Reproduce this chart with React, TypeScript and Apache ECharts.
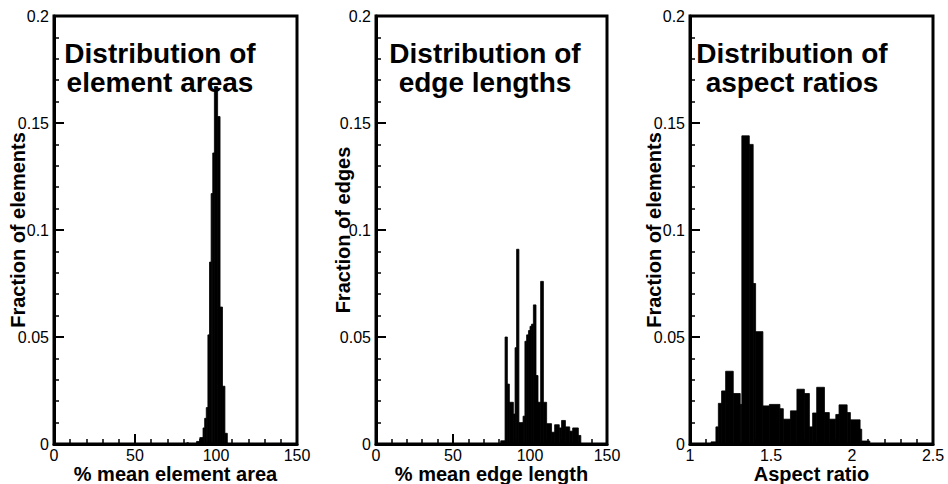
import React, { useEffect, useRef } from 'react';
import * as echarts from 'echarts';

// Panel 1: distribution of element areas (% of mean element area)
const AREA_EDGES = [82, 83, 88, 90, 92, 93, 94, 95, 96, 97, 98, 99, 101, 102.5, 104, 105.5, 107];
const AREA_FRACTIONS = [0.0006, 0, 0.0012, 0.003, 0.0075, 0.012, 0.017, 0.051, 0.085, 0.117, 0.136, 0.167, 0.153, 0.064, 0.027, 0.005];

// Panel 2: distribution of edge lengths (% of mean edge length)
const EDGE_EDGES = [81, 83.8, 85.3, 86.6, 89.2, 90.3, 91.3, 92.8, 95.5, 96.7, 97.8, 99, 100, 101, 102.2, 103.9, 105.2, 106.9, 108.7, 110.8, 114, 116, 119, 120.5, 123, 125.8, 127.7, 131.4, 133];
const EDGE_FRACTIONS = [0.0015, 0.05, 0.028, 0.0195, 0.014, 0.045, 0.091, 0.01, 0.013, 0.048, 0.051, 0.053, 0.055, 0.056, 0.065, 0.032, 0.0195, 0.076, 0.0195, 0.0095, 0.0055, 0.009, 0.0075, 0.011, 0.008, 0.006, 0.0075, 0.004];

// Panel 3: distribution of aspect ratios
const ASPECT_EDGES = [1.13, 1.16, 1.175, 1.195, 1.22, 1.267, 1.31, 1.32, 1.366, 1.39, 1.405, 1.45, 1.49, 1.555, 1.576, 1.62, 1.66, 1.706, 1.737, 1.757, 1.782, 1.83, 1.86, 1.9, 1.92, 1.97, 1.99, 2.05, 2.06, 2.11];
const ASPECT_FRACTIONS = [0.001, 0.008, 0.019, 0.0248, 0.034, 0.0236, 0.0185, 0.144, 0.14, 0.075, 0.0525, 0.0178, 0.0185, 0.0165, 0.0116, 0.0155, 0.0256, 0.0236, 0.008, 0.0145, 0.0265, 0.0147, 0.0116, 0.0138, 0.0183, 0.0147, 0.0113, 0.0069, 0.0014];

const TITLES = ['Distribution of\nelement areas', 'Distribution of\nedge lengths', 'Distribution of\naspect ratios'];
const X_NAMES = ['% mean element area', '% mean edge length', 'Aspect ratio'];
const Y_NAMES = ['Fraction of elements', 'Fraction of edges', 'Fraction of elements'];
const X_RANGES = [[0, 150, 50], [0, 150, 50], [1, 2.5, 0.5]];
const Y_RANGE = [0, 0.2, 0.05];

const FONT = '"Liberation Sans", Arial, Helvetica, sans-serif';

function toBins(edges: number[], values: number[]) {
  return values.map((v, i) => [edges[i], edges[i + 1], v]);
}

export default function App() {
  const ref = useRef<HTMLDivElement>(null);

  useEffect(() => {
    if (!ref.current) return;
    const chart = echarts.init(ref.current, null, { renderer: 'svg' });

    const layout = [
      { left: 54, width: 243, yGap: 27, titleX: 160 },
      { left: 376, width: 231, yGap: 24, titleX: 485 },
      { left: 690, width: 243, yGap: 27, titleX: 792 },
    ];
    const datasets = [
      toBins(AREA_EDGES, AREA_FRACTIONS),
      toBins(EDGE_EDGES, EDGE_FRACTIONS),
      toBins(ASPECT_EDGES, ASPECT_FRACTIONS),
    ];

    const tickStyle = {
      axisLine: { show: true, lineStyle: { color: '#000', width: 3 } },
      axisTick: { show: true, inside: true, length: 10, lineStyle: { color: '#000', width: 2 } },
      minorTick: { show: true, splitNumber: 5, length: 5, lineStyle: { color: '#000', width: 1.5 } },
      splitLine: { show: false },
      minorSplitLine: { show: false },
    };
    const labelStyle = { color: '#000', fontSize: 16, fontFamily: FONT, lineHeight: 14 };
    const nameStyle = { color: '#000', fontSize: 20, fontWeight: 'bold', fontFamily: FONT, lineHeight: 18 };

    const renderItem = (params: any, api: any) => {
      const x0 = api.value(0);
      const x1 = api.value(1);
      const v = api.value(2);
      const a = api.coord([x0, v]);
      const b = api.coord([x1, 0]);
      return {
        type: 'rect',
        shape: { x: a[0], y: a[1], width: b[0] - a[0], height: b[1] - a[1] },
        style: { fill: '#000', stroke: '#000', lineWidth: 0.8 },
      };
    };

    const option: any = {
      animation: false,
      backgroundColor: '#fff',
      grid: layout.map((l) => ({
        left: l.left,
        width: l.width,
        top: 16,
        height: 428,
        containLabel: false,
        outerBoundsMode: 'none',
        show: true,
        borderColor: '#000',
        borderWidth: 3,
        backgroundColor: 'transparent',
      })),
      xAxis: layout.map((l, i) => ({
        type: 'value',
        gridIndex: i,
        min: X_RANGES[i][0],
        max: X_RANGES[i][1],
        interval: X_RANGES[i][2],
        ...tickStyle,
        axisLabel: { ...labelStyle, margin: 4 },
        name: X_NAMES[i],
        nameLocation: 'middle',
        nameGap: 21,
        nameMoveOverlap: false,
        nameTextStyle: nameStyle,
      })),
      yAxis: layout.map((l, i) => ({
        type: 'value',
        gridIndex: i,
        min: Y_RANGE[0],
        max: Y_RANGE[1],
        interval: Y_RANGE[2],
        ...tickStyle,
        axisLabel: { ...labelStyle, margin: 5 },
        name: Y_NAMES[i],
        nameLocation: 'middle',
        nameRotate: 90,
        nameGap: l.yGap,
        nameMoveOverlap: false,
        nameTextStyle: nameStyle,
      })),
      series: datasets.map((d, i) => ({
        type: 'custom',
        xAxisIndex: i,
        yAxisIndex: i,
        data: d,
        encode: { x: [0, 1], y: 2 },
        renderItem,
        z: 5,
      })),
      graphic: layout.map((l, i) => ({
        type: 'text',
        x: l.titleX,
        y: 39,
        z: 1,
        style: {
          text: TITLES[i],
          fill: '#000',
          fontSize: 28,
          fontWeight: 'bold',
          fontFamily: FONT,
          lineHeight: 29,
          align: 'center',
          verticalAlign: 'top',
        },
      })),
    };

    chart.setOption(option);
    return () => {
      chart.dispose();
    };
  }, []);

  return (
    <div
      ref={ref}
      style={{ position: 'fixed', left: 0, top: 0, width: 948, height: 484, background: '#fff' }}
    />
  );
}
